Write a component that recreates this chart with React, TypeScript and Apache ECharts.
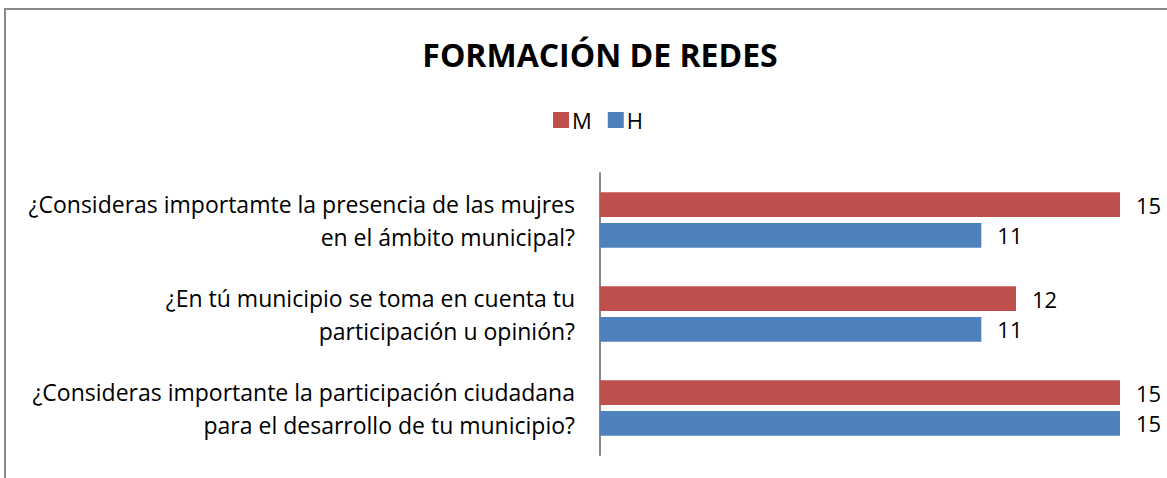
import React, { useEffect, useRef } from "react";
import * as echarts from "echarts";

const categories: string[] = [
  "¿Consideras importamte la presencia de las mujres\nen el ámbito municipal?",
  "¿En tú municipio se toma en cuenta tu\nparticipación u opinión?",
  "¿Consideras importante la participación ciudadana\npara el desarrollo de tu municipio?",
];
const seriesNames: string[] = ["M", "H"];
const valuesM: number[] = [15, 12, 15];
const valuesH: number[] = [11, 11, 15];
const colors: string[] = ["#C0504D", "#4F81BD"];

const FONT = "'Open Sans', 'Noto Sans', sans-serif";

export default function App() {
  const ref = useRef<HTMLDivElement>(null);
  useEffect(() => {
    document.body.style.margin = "0";
    if (!ref.current) return;
    const chart = echarts.init(ref.current, null, { renderer: "svg" });
    const label = {
      show: true,
      position: "right" as const,
      distance: 16,
      color: "#000",
      fontSize: 22,
      fontFamily: FONT,
    };
    chart.setOption({
      animation: false,
      backgroundColor: "#fff",
      title: {
        text: "FORMACIÓN DE REDES",
        left: 595,
        top: 33,
        textAlign: "center",
        textStyle: { fontSize: 32, fontWeight: "bold", color: "#000", fontFamily: FONT },
      },
      legend: {
        data: seriesNames,
        left: 548,
        top: 104,
        itemWidth: 16,
        itemHeight: 16,
        itemGap: 16,
        icon: "rect",
        textStyle: { fontSize: 22, color: "#000", fontFamily: FONT, padding: [0, 0, 0, -2] },
      },
      grid: { left: 600, top: 173, width: 520, height: 282, containLabel: false },
      xAxis: {
        type: "value",
        min: 0,
        max: 15,
        show: false,
      },
      yAxis: {
        type: "category",
        data: categories,
        inverse: true,
        axisLine: { show: true, lineStyle: { color: "#868686", width: 2 } },
        axisTick: { show: false },
        axisLabel: {
          margin: 25,
          fontSize: 23,
          lineHeight: 33,
          color: "#000",
          fontFamily: FONT,
          align: "right",
        },
      },
      graphic: [
        {
          type: "rect",
          shape: { x: 5, y: 9, width: 1200, height: 520 },
          style: { fill: "none", stroke: "#888", lineWidth: 2 },
          silent: true,
        },
      ],
      series: [
        {
          name: seriesNames[0],
          type: "bar",
          data: valuesM,
          itemStyle: { color: colors[0] },
          barGap: "25%",
          barCategoryGap: "41%",
          label,
        },
        {
          name: seriesNames[1],
          type: "bar",
          data: valuesH,
          itemStyle: { color: colors[1] },
          barGap: "25%",
          barCategoryGap: "41%",
          label,
        },
      ],
    });
    return () => chart.dispose();
  }, []);
  return <div ref={ref} style={{ width: 1167, height: 478 }} />;
}
